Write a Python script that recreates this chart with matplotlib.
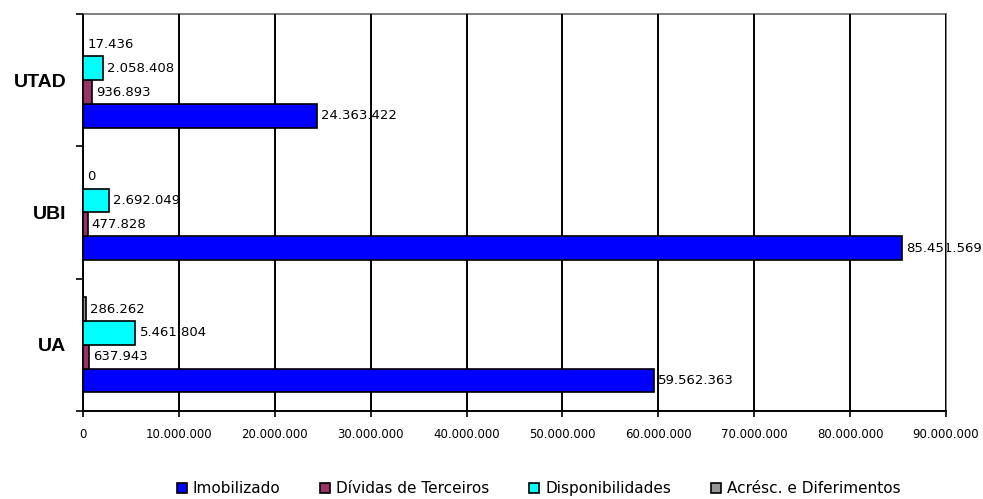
import matplotlib.pyplot as plt
import numpy as np

plt.rcParams['font.family'] = ['DejaVu Sans']

institutions = ["UA", "UBI", "UTAD"]
series = ["Imobilizado", "Dívidas de Terceiros", "Disponibilidades", "Acrésc. e Diferimentos"]
imobilizado = [59562363, 85451569, 24363422]
dividas = [637943, 477828, 936893]
disponibilidades = [5461804, 2692049, 2058408]
acresc = [286262, 0, 17436]
colors = ["#0000FF", "#993366", "#00FFFF", "#969696"]
xticks = np.arange(0, 90000001, 10000000)


def fmt(v):
    return f"{v:,}".replace(",", ".")


fig = plt.figure(figsize=(9.83, 4.99), dpi=100)
ax = fig.add_axes([0.0844, 0.1764, 0.8780, 0.7956])

y = np.arange(len(institutions))
h = 0.18
data = [imobilizado, dividas, disponibilidades, acresc]
for i, (vals, name, c) in enumerate(zip(data, series, colors)):
    pos = y + (i - 1.5) * h
    ax.barh(pos, vals, height=h, color=c, edgecolor="black", linewidth=1.2,
            label=name, zorder=3)
    # value labels sit under the gridlines, as in the original
    for p, v in zip(pos, vals):
        ax.annotate(fmt(v), (v, p), xytext=(3, 0), textcoords="offset points",
                    va="center", ha="left", fontsize=9.5, zorder=2)

ax.set_xlim(0, 90000000)
ax.set_ylim(-0.5, 2.5)
ax.set_xticks(xticks)
ax.set_xticklabels([fmt(v) for v in xticks], fontsize=8.5)
ax.tick_params(axis="x", direction="out", length=4, width=1.2, pad=8)

ax.set_yticks(y)
ax.set_yticklabels(institutions, fontsize=14, fontweight="bold",
                   family="Liberation Sans")
ax.set_yticks(np.arange(-0.5, 3.0, 1.0), minor=True)
ax.tick_params(axis="y", which="major", length=0, pad=12)
ax.tick_params(axis="y", which="minor", length=5, width=1.2, direction="out")

ax.set_axisbelow(False)
ax.xaxis.grid(True, color="black", linewidth=1.4)
for s in ["left", "bottom"]:
    ax.spines[s].set_linewidth(1.4)
    ax.spines[s].set_color("black")
for s in ["top", "right"]:
    ax.spines[s].set_linewidth(1.4)
    ax.spines[s].set_color("#808080")

handles, labels = ax.get_legend_handles_labels()
fig.legend(handles, labels, loc="lower center", bbox_to_anchor=(0.548, -0.022),
           ncol=4, frameon=False, fontsize=11, handlelength=0.65,
           handleheight=0.65, handletextpad=0.4, columnspacing=2.6)

fig.savefig("out.png", dpi=100)
